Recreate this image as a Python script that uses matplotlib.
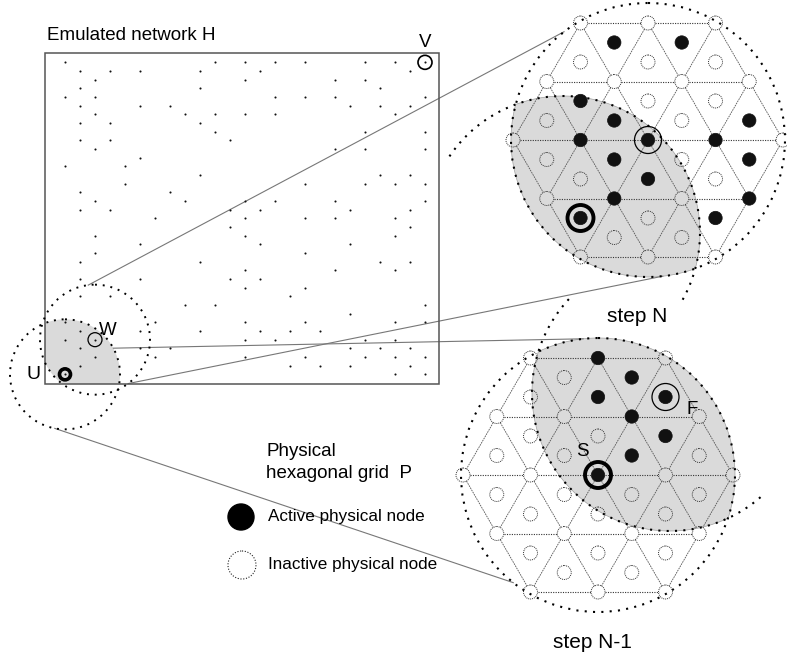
import numpy as np
import matplotlib.pyplot as plt
from matplotlib.patches import Circle, Rectangle, Polygon

plt.rcParams['font.family'] = ['Liberation Sans', 'DejaVu Sans']

# ---------------------------------------------------------------- data
# emulated network H: columns holding a node, one list per lattice row
h_rows = [
    [0, 10, 12, 14, 16, 20, 22, 24],
    [1, 3, 5, 9, 13, 23],
    [2, 12, 18, 20],
    [1, 9, 21],
    [0, 2, 14, 16, 18, 24],
    [1, 5, 7, 19, 21, 23],
    [2, 8, 10, 12, 14, 22],
    [1, 3, 9],
    [10, 20, 24],
    [1, 3, 11],
    [2, 18, 20, 24],
    [5],
    [0, 4],
    [9, 21, 23],
    [4, 16, 20, 22, 24],
    [1, 7],
    [2, 8, 12, 14, 18, 24],
    [1, 3, 11, 13, 19, 23],
    [6, 12, 16, 18, 22],
    [11, 23],
    [2, 12, 22],
    [5, 13, 19],
    [2, 16],
    [1, 9, 21, 23],
    [12, 18, 22],
    [1, 5, 11, 13],
    [12, 16],
    [1, 3, 15],
    [8, 10, 24],
    [19],
    [0, 6, 12, 16, 22, 24],
    [1, 5, 9, 13, 15, 17],
    [0, 2, 12, 14, 20, 22],
    [1, 5, 7, 19, 21, 23],
    [2, 6, 12, 16, 20, 22, 24],
    [1, 15, 17, 19, 23],
    [0, 22, 24],
]
h_labels = ["V", "W", "U"]
h_label_nodes = [(0, 24), (32, 2), (36, 0)]   # (row, column)

# physical hexagonal grids P, node rows from the top:
# vertex row, upper triangle centres, lower triangle centres, vertex row ...
# x = active physical node, o = inactive physical node
grid_step_n = ["ooo", "xx", "ooo", "oooo", "xoo", "oxox", "oxxxo",
               "oxox", "oxo", "oxox", "xox", "oo", "ooo"]
grid_step_n1 = ["oxo", "ox", "oxx", "ooxo", "oox", "ooxo", "ooxoo",
                "oooo", "ooo", "oooo", "ooo", "oo", "ooo"]
# marked nodes (row, index): thin ring, bold ring
rings_step_n = [(6, 2), (10, 0)]
rings_step_n1 = [(2, 2), (6, 2)]

legend_labels = ["Active physical node", "Inactive physical node"]

# ---------------------------------------------------------------- layout
BOX = (45, 53, 439, 384)
HX0, HDX, HY0, HDY = 65, 15, 62.33, 8.667
TOP_C, BOT_C = (648, 140), (598, 475)
SP, RH = 67.5, 58.5
BIG_R = 137
NODE_R = 7

fig = plt.figure(figsize=(7.87, 6.58), dpi=100)
ax = fig.add_axes([0, 0, 1, 1])
ax.set_xlim(0, 787)
ax.set_ylim(658, 0)
ax.axis('off')

DOTTED = (0, (1, 3))


def pt(c, r, deg):
    t = np.radians(deg)
    return c[0] + r * np.cos(t), c[1] + r * np.sin(t)


def arc_line(c, r, d0, d1, **kw):
    t = np.radians(np.linspace(d0, d1, 300))
    ax.plot(c[0] + r * np.cos(t), c[1] + r * np.sin(t), **kw)


def lens(c1, r1, c2, r2, n=150):
    c1 = np.array(c1, float)
    c2 = np.array(c2, float)
    d = np.linalg.norm(c2 - c1)
    a = (r1 ** 2 - r2 ** 2 + d ** 2) / (2 * d)
    hh = np.sqrt(r1 ** 2 - a ** 2)
    u = (c2 - c1) / d
    perp = np.array([-u[1], u[0]])
    p1 = c1 + a * u + hh * perp
    p2 = c1 + a * u - hh * perp

    def arc(c, r, pa, pb, toward):
        ta = np.arctan2(pa[1] - c[1], pa[0] - c[0])
        tb = np.arctan2(pb[1] - c[1], pb[0] - c[0])
        tm = np.arctan2(toward[1], toward[0])
        span = (tb - ta) % (2 * np.pi)
        if (tm - ta) % (2 * np.pi) > span:
            span -= 2 * np.pi
        t = ta + np.linspace(0, span, n)
        return np.c_[c[0] + r * np.cos(t), c[1] + r * np.sin(t)]

    return np.vstack([arc(c1, r1, p1, p2, u), arc(c2, r2, p2, p1, -u)])


def grid(center, states, rings, second_c, second_r, arc_span):
    cx, cy = center
    # grey lens
    poly = lens(center, BIG_R, second_c, second_r)
    ax.add_patch(Polygon(poly, closed=True, fc='#dadada', ec='#a0a0a0',
                         lw=0.5, zorder=1))
    # vertices of the hexagon
    counts = [3, 4, 5, 4, 3]
    vx = [cx + (np.arange(n) - (n - 1) / 2) * SP for n in counts]
    vy = [cy + (j - 2) * RH for j in range(5)]
    rows = []
    for j in range(5):
        rows.append([(x, vy[j]) for x in vx[j]])
        if j < 4:
            m1 = (vx[j][:-1] + vx[j][1:]) / 2
            m2 = (vx[j + 1][:-1] + vx[j + 1][1:]) / 2
            rows.append([(x, vy[j] + RH / 3) for x in m1])
            rows.append([(x, vy[j] + 2 * RH / 3) for x in m2])
    # lattice edges
    verts = [(x, vy[j]) for j in range(5) for x in vx[j]]
    for i, a in enumerate(verts):
        for b in verts[i + 1:]:
            d = np.hypot(b[0] - a[0], b[1] - a[1])
            if abs(d - SP) < 5:
                ux, uy = (b[0] - a[0]) / d, (b[1] - a[1]) / d
                horiz = abs(uy) < 0.1
                ax.plot([a[0] + ux * NODE_R, b[0] - ux * NODE_R],
                        [a[1] + uy * NODE_R, b[1] - uy * NODE_R],
                        color='#333333' if horiz else '#555555',
                        lw=0.8 if horiz else 0.6,
                        ls=(0, (1, 1.2)) if horiz else (0, (2, 1)),
                        zorder=2)
    # nodes
    for row, st in zip(rows, states):
        for (x, y), s in zip(row, st):
            if s == 'x':
                ax.add_patch(Circle((x, y), NODE_R - 0.3, fc='#111111',
                                    ec='#111111', lw=0.5, zorder=4))
            else:
                ax.add_patch(Circle((x, y), NODE_R, fill=False, ec='#333333',
                                    lw=0.7, ls=(0, (1, 1)), zorder=4))
    (r0, i0), (r1, i1) = rings
    ax.add_patch(Circle(rows[r0][i0], 13.5, fill=False, ec='black', lw=0.9,
                        zorder=5))
    ax.add_patch(Circle(rows[r1][i1], 13, fill=False, ec='black', lw=2.8,
                        zorder=5))
    # big dotted circles
    ax.add_patch(Circle(center, BIG_R, fill=False, ec='black', lw=1.5,
                        ls=DOTTED, zorder=3))
    arc_line(second_c, second_r, arc_span[0], arc_span[1], color='black',
             lw=1.5, ls=DOTTED, zorder=3)
    return rows


rows_n = grid(TOP_C, grid_step_n, rings_step_n, (563, 233), 137, (214, 391))
rows_n1 = grid(BOT_C, grid_step_n1, rings_step_n1, (670, 393), 138, (49, 224))

# ---------------------------------------------------------------- network H
label_pos = {k: (HX0 + c * HDX, HY0 + r * HDY)
             for k, (r, c) in zip(h_labels, h_label_nodes)}
W, U, V = label_pos["W"], label_pos["U"], label_pos["V"]
INSET_R = 55

inset = Polygon(lens(W, INSET_R, U, INSET_R), closed=True, fc='#dadada',
                ec='none', zorder=1)
ax.add_patch(inset)
clip = Rectangle((BOX[0], BOX[1]), BOX[2] - BOX[0], BOX[3] - BOX[1],
                 transform=ax.transData)
inset.set_clip_path(clip)

ax.add_patch(Rectangle((BOX[0], BOX[1]), BOX[2] - BOX[0], BOX[3] - BOX[1],
                       fill=False, ec='#555555', lw=1.1, zorder=3))

for r, cols in enumerate(h_rows):
    xs = HX0 + np.array(cols) * HDX
    ax.plot(xs, np.full(len(xs), HY0 + r * HDY), 'o', color='#111111',
            ms=1.5, mew=0, zorder=4)

for c in (W, U):
    ax.add_patch(Circle(c, INSET_R, fill=False, ec='black', lw=1.4,
                        ls=DOTTED, zorder=3))
ax.add_patch(Circle(V, 7, fill=False, ec='black', lw=1.2, zorder=5))
ax.add_patch(Circle(W, 7, fill=False, ec='black', lw=0.9, zorder=5))
ax.add_patch(Circle(U, 5.5, fill=False, ec='black', lw=2.6, zorder=5))

# connector lines between the zoomed areas
connectors = [(W, INSET_R, -97, TOP_C, -127.8),
              (W, INSET_R, 53, TOP_C, 83.8),
              (U, INSET_R, -28.4, BOT_C, -96.2),
              (U, INSET_R, 100.7, BOT_C, 128.2)]
for c0, r0, a0, c1, a1 in connectors:
    p0 = pt(c0, r0, a0)
    p1 = pt(c1, BIG_R, a1)
    ax.plot([p0[0], p1[0]], [p0[1], p1[1]], color='#777777', lw=0.8,
            zorder=2)

# ---------------------------------------------------------------- text
fs = 13.5
ax.text(47, 35, "Emulated network H", fontsize=fs, va='center', ha='left')
ax.text(V[0], V[1] - 20, "V", fontsize=fs, va='center', ha='center')
ax.text(W[0] + 13, W[1] - 9, "W", fontsize=fs, va='center', ha='center')
ax.text(U[0] - 32, U[1], "U", fontsize=14, va='center', ha='center')
S = rows_n1[6][2]
F = rows_n1[2][2]
ax.text(S[0] - 16, S[1] - 23, "S", fontsize=fs, va='center', ha='center')
ax.text(F[0] + 27, F[1] + 12, "F", fontsize=fs, va='center', ha='center')
ax.text(637, 317, "step N", fontsize=15, va='center', ha='center')
ax.text(592, 643, "step N-1", fontsize=15, va='center', ha='center')
ax.text(266, 452, "Physical", fontsize=fs, va='center', ha='left')
ax.text(266, 473, "hexagonal grid  P", fontsize=fs, va='center', ha='left')

ax.add_patch(Circle((241, 517), 13, fc='black', ec='black', zorder=4))
ax.add_patch(Circle((242, 565), 14, fill=False, ec='#222222', lw=0.8,
                    ls=(0, (1, 1.5)), zorder=4))
for y, lab in zip([517, 565], legend_labels):
    ax.text(268, y, lab, fontsize=12.3, va='center', ha='left')

fig.savefig('out.png', dpi=100)
